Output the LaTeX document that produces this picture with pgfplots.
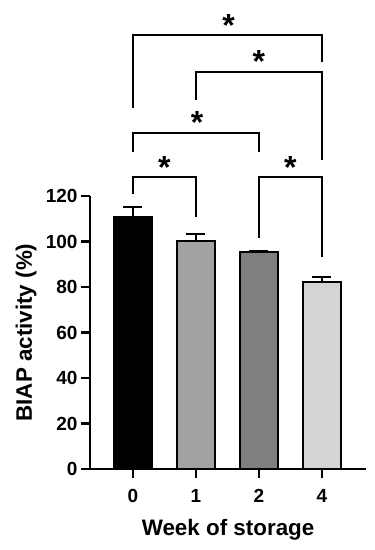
\documentclass[border=0pt]{standalone}
\usepackage{fontspec}
\setmainfont{Liberation Sans}
\usepackage{pgfplots}
\pgfplotsset{compat=1.18}
\definecolor{gA}{RGB}{162,162,164}
\definecolor{gB}{RGB}{127,127,127}
\definecolor{gC}{RGB}{212,212,212}
\begin{document}
\begin{tikzpicture}
\begin{axis}[
 scale only axis, width=276pt, height=273pt,
 xmin=-0.68, xmax=3.7, ymin=0, ymax=120,
 axis lines*=left,
 axis line style={line width=2.6pt, black},
 x axis line style={shorten <=-8pt},
 ytick={0,20,...,120}, xtick={0,1,2,3}, xticklabels={0,1,2,4},
 tick style={line width=2.6pt, black}, major tick length=9pt, tick align=outside,
 ticklabel style={font=\bfseries\fontsize{19}{19}\selectfont},
 xticklabel style={yshift=-8pt},
 /pgf/number format/assume math mode=true,
 ylabel={BIAP activity (\%)}, xlabel={Week of storage},
 label style={font=\bfseries\fontsize{22.4}{22.4}\selectfont},
 xlabel style={at={(axis description cs:0.5,0)}, anchor=north, yshift=-47pt},
 ylabel style={at={([xshift=-50pt]axis description cs:0,0.5)}, anchor=south},
 clip=false,
 error bars/error bar style={line width=2pt, black},
 error bars/error mark options={rotate=90, mark size=9.5pt, line width=2pt, black},
]
\addplot[ybar, bar width=38pt, bar shift=0pt, fill=black, draw=black, line width=2.5pt,
  error bars/.cd, y dir=plus, y explicit] coordinates {(0,110.6) +- (0,4.4)};
\addplot[ybar, bar width=38pt, bar shift=0pt, fill=gA, draw=black, line width=2.5pt,
  error bars/.cd, y dir=plus, y explicit] coordinates {(1,100.2) +- (0,3.2)};
\addplot[ybar, bar width=38pt, bar shift=0pt, fill=gB, draw=black, line width=2.5pt,
  error bars/.cd, y dir=plus, y explicit] coordinates {(2,95.4) +- (0,0.4)};
\addplot[ybar, bar width=38pt, bar shift=0pt, fill=gC, draw=black, line width=2.5pt,
  error bars/.cd, y dir=plus, y explicit] coordinates {(3,82.3) +- (0,2.2)};
% significance brackets
\addplot[black, line width=2pt, mark=none] coordinates {(0,120.9) (0,128.4) (1,128.4) (1,110.9)};
\addplot[black, line width=2pt, mark=none] coordinates {(2,101.5) (2,128.4) (3,128.4) (3,93.2)};
\addplot[black, line width=2pt, mark=none] coordinates {(0,139.3) (0,147.7) (2,147.7) (2,139.3)};
\addplot[black, line width=2pt, mark=none] coordinates {(1,162.2) (1,174.5) (3,174.5) (3,135.8)};
\addplot[black, line width=2pt, mark=none] coordinates {(0,158.7) (0,190.8) (3,190.8) (3,178.9)};
\begin{scope}[every node/.style={font=\bfseries\fontsize{32}{32}\selectfont, yshift=-7pt}]
\node at (axis cs:0.5,135.8) {*};
\node at (axis cs:2.5,135.8) {*};
\node at (axis cs:1.02,155.6) {*};
\node at (axis cs:2.0,182.4) {*};
\node at (axis cs:1.52,198.2) {*};
\end{scope}
\path (axis cs:-2.11,-35.6) rectangle (axis cs:3.84,206.2);
\end{axis}
\end{tikzpicture}
\end{document}
